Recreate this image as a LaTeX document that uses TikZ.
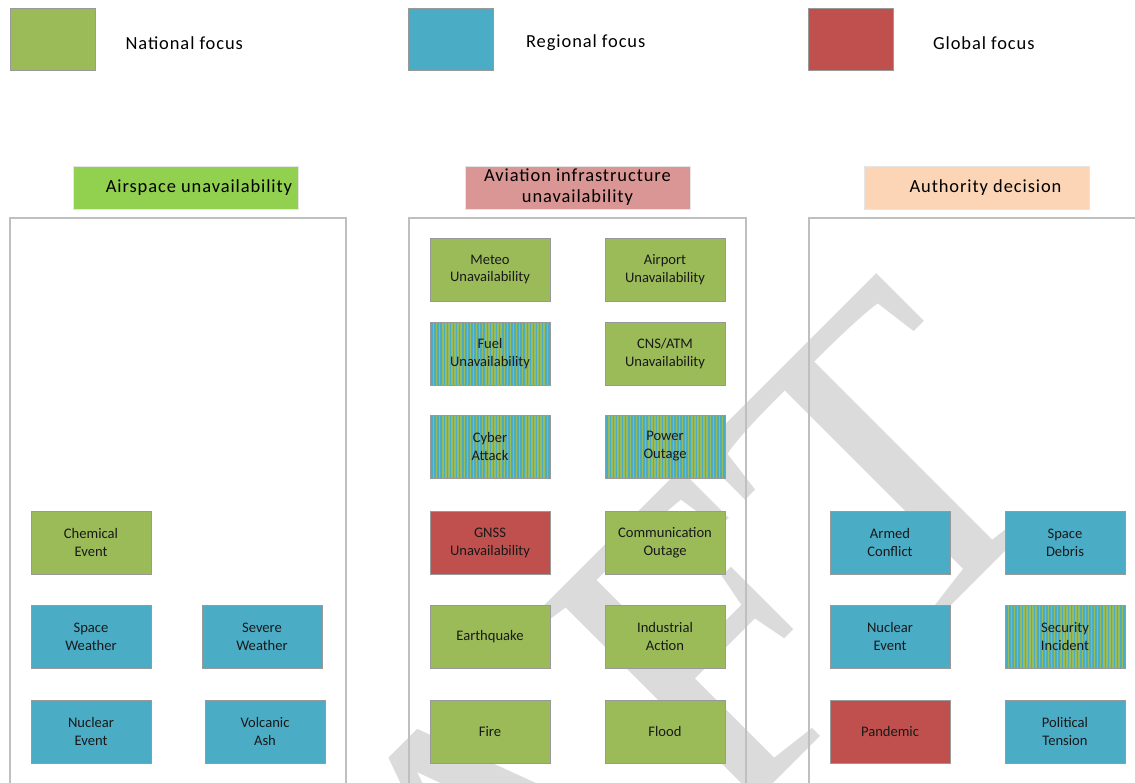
\documentclass[tikz,border=0pt]{standalone}
\usepackage{fontspec}
\setmainfont{Carlito}
\newfontfamily\markfont{Liberation Serif}
\newfontfamily\spacedfont[LetterSpace=5]{Carlito}
\usepackage{tikz}
\tikzset{>=latex}
\usetikzlibrary{patterns.meta, positioning}
\definecolor{natgreen}{HTML}{9BBB59}
\definecolor{regblue}{HTML}{4BACC6}
\definecolor{globred}{HTML}{C0504D}
\definecolor{airgreen}{HTML}{92D050}
\definecolor{infrapink}{HTML}{D99694}
\definecolor{authpeach}{HTML}{FBD5B5}
\def\boxfont{\fontsize{8.3}{10.2}\selectfont}
\def\headfont{\spacedfont\fontsize{10.5}{12}\selectfont}

\tikzset{
    threat/.style={draw=black!40, line width=0.5pt, minimum width=2.4cm, minimum height=1.26cm,
                   align=center, font=\boxfont, inner sep=1pt, text=black!90},
    natbox/.style={threat, fill=natgreen},
    regbox/.style={threat, fill=regblue},
    globbox/.style={threat, fill=globred},
    mixbox/.style={threat, preaction={fill=regblue},
                   pattern={Lines[angle=90, distance=1.75pt, line width=0.85pt]}, pattern color=natgreen},
    keybox/.style={draw=black!40, line width=0.5pt, minimum width=1.7cm, minimum height=1.24cm},
    head/.style={draw=black!10, line width=0.4pt, minimum width=4.5cm, minimum height=0.86cm,
                 align=center, font=\headfont, inner sep=0pt},
    column/.style={draw=black!25, line width=0.8pt}
}

\begin{document}
\begin{tikzpicture}[x=0.02cm, y=-0.02cm]

    \useasboundingbox (0,0) rectangle (1135,782);
    \clip (0,0) rectangle (1135,782);

    % watermark behind everything
    \node[rotate=45, anchor=north east, inner sep=0pt, text=black!14,
          font=\markfont\fontsize{250}{250}\selectfont] (draftmark) at (880,266) {DRAFT};

    % legend
    \node[keybox, fill=natgreen] (natkey) at (52.5,39) {};
    \node[keybox, fill=regblue] (regkey) at (451,39) {};
    \node[keybox, fill=globred] (globkey) at (851,39) {};
    \node[font=\headfont, right=0.48cm of natkey, yshift=-0.08cm] (natlabel) {National focus};
    \node[font=\headfont, right=0.52cm of regkey, yshift=-0.08cm] (reglabel) {Regional focus};
    \node[font=\headfont, right=0.66cm of globkey, yshift=-0.08cm] (globlabel) {Global focus};

    % column frames, open at the bottom
    \draw[column] (10,790) -- (10,218) -- (346,218) -- (346,790);
    \draw[column] (409,790) -- (409,218) -- (746,218) -- (746,790);
    \draw[column] (809,790) -- (809,218) -- (1140,218);

    % headers
    \node[head, fill=airgreen] (airspace) at (185.5,188) {\hspace{0.54cm}Airspace unavailability};
    \node[head, fill=infrapink] (infra) at (577.5,187.5) {Aviation infrastructure\\ unavailability};
    \node[head, fill=authpeach] (authority) at (976.5,187.5) {\hspace{0.36cm}Authority decision};

    % airspace unavailability
    \node[natbox] (chemical) at (91,542.5) {Chemical\\Event};
    \node[regbox] (spacewx) at (91,636.5) {Space\\Weather};
    \node[regbox] (severewx) at (262,636.5) {Severe\\Weather};
    \node[regbox] (nuclearair) at (91,731.5) {Nuclear\\Event};
    \node[regbox] (volcanic) at (265,731.5) {Volcanic\\Ash};

    % aviation infrastructure unavailability
    \node[natbox] (meteo) at (490,269.5) {Meteo\\Unavailability};
    \node[natbox] (airport) at (665,269.5) {Airport\\Unavailability};
    \node[mixbox] (fuel) at (490,353.5) {Fuel\\Unavailability};
    \node[natbox] (cnsatm) at (665,353.5) {CNS/ATM\\Unavailability};
    \node[mixbox] (cyber) at (490,446.5) {Cyber\\Attack};
    \node[mixbox] (power) at (665,446.5) {Power\\Outage};
    \node[globbox] (gnss) at (490,542.5) {GNSS\\Unavailability};
    \node[natbox] (comms) at (665,542.5) {Communication\\Outage};
    \node[natbox] (quake) at (490,636.5) {Earthquake};
    \node[natbox] (strike) at (665,636.5) {Industrial\\Action};
    \node[natbox] (fire) at (490,731.5) {Fire};
    \node[natbox] (flood) at (665,731.5) {Flood};

    % authority decision
    \node[regbox] (conflict) at (890,542.5) {Armed\\Conflict};
    \node[regbox] (debris) at (1065,542.5) {Space\\Debris};
    \node[regbox] (nuclearauth) at (890,636.5) {Nuclear\\Event};
    \node[mixbox] (security) at (1065,636.5) {Security\\Incident};
    \node[globbox] (pandemic) at (890,731.5) {Pandemic};
    \node[regbox] (tension) at (1065,731.5) {Political\\Tension};

\end{tikzpicture}
\end{document}
